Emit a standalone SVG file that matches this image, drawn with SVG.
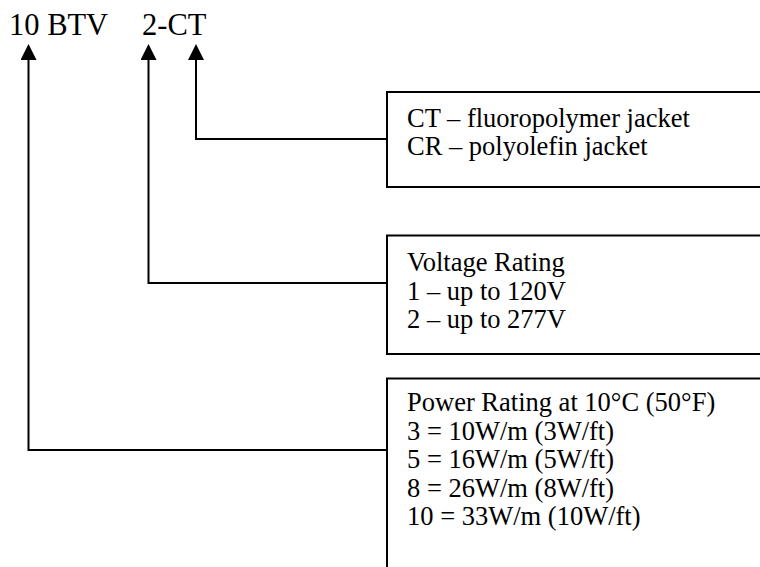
<svg xmlns="http://www.w3.org/2000/svg" width="760" height="567" viewBox="0 0 760 567">
  <style>
    .t { font-family: "Liberation Serif", "Times New Roman", serif; fill: #000; }
    .title { font-size: 30.5px; }
    .lbl { font-size: 26.5px; }
    .box { fill: #fff; stroke: #000; stroke-width: 2; }
    .wire { fill: none; stroke: #000; stroke-width: 2; marker-end: url(#arr); }
  </style>
  <defs>
    <marker id="arr" viewBox="0 0 16 16" refX="0" refY="8" markerWidth="16" markerHeight="16" markerUnits="userSpaceOnUse" orient="auto">
      <path d="M0,0 L16,8 L0,16 Z" fill="#000"/>
    </marker>
  </defs>
  <rect width="760" height="567" fill="#fff"/>

  <g id="code">
    <text class="t title" x="9" y="35">10 BTV</text>
    <text class="t title" x="142" y="35">2-CT</text>
  </g>

  <g id="connectors">
    <polyline class="wire" points="387,450 28.5,450 28.5,60"/>
    <polyline class="wire" points="387,283 148.5,283 148.5,60"/>
    <polyline class="wire" points="387,139 196,139 196,60"/>
  </g>

  <g id="jacket">
    <rect class="box" x="387" y="92" width="380" height="95"/>
    <text class="t lbl" x="407" y="127">CT – fluoropolymer jacket</text>
    <text class="t lbl" x="407" y="155">CR – polyolefin jacket</text>
  </g>

  <g id="voltage">
    <rect class="box" x="387" y="235.5" width="380" height="118.5"/>
    <text class="t lbl" x="407" y="271">Voltage Rating</text>
    <text class="t lbl" x="407" y="299.5">1 – up to 120V</text>
    <text class="t lbl" x="407" y="328">2 – up to 277V</text>
  </g>

  <g id="power">
    <rect class="box" x="387" y="378.5" width="380" height="200"/>
    <text class="t lbl" x="407" y="411">Power Rating at 10°C (50°F)</text>
    <text class="t lbl" x="407" y="439.5">3 = 10W/m (3W/ft)</text>
    <text class="t lbl" x="407" y="468">5 = 16W/m (5W/ft)</text>
    <text class="t lbl" x="407" y="496.5">8 = 26W/m (8W/ft)</text>
    <text class="t lbl" x="407" y="525">10 = 33W/m (10W/ft)</text>
  </g>
</svg>
